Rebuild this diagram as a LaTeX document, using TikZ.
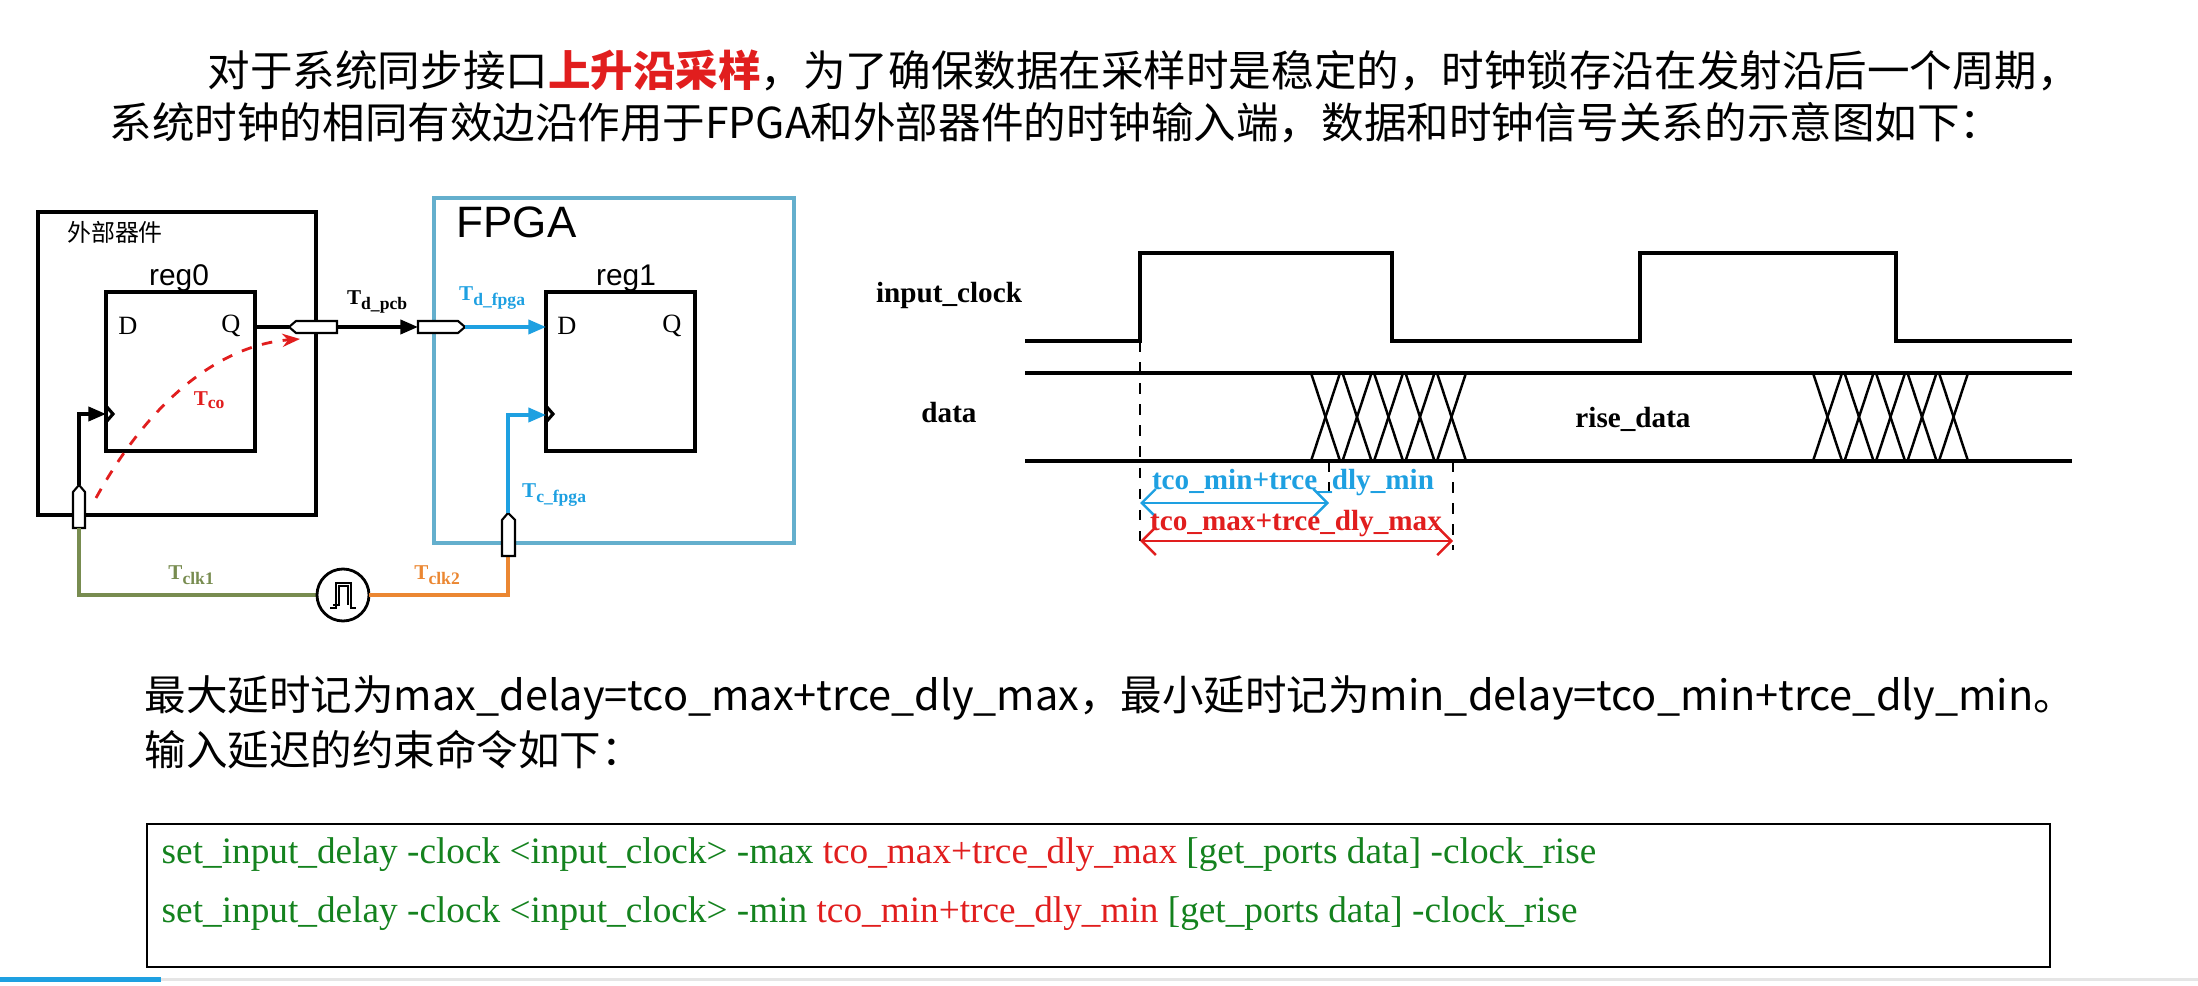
\documentclass[tikz,border=0pt]{standalone}
\usepackage{fontspec}
\setmainfont{Liberation Serif}
\setsansfont{Liberation Sans}
\newfontfamily\cjk{Noto Sans CJK SC}
\usetikzlibrary{arrows.meta}
\definecolor{cred}{RGB}{225,30,30}
\definecolor{cgreen}{RGB}{20,130,30}
\definecolor{cblue}{RGB}{30,160,225}
\definecolor{colive}{RGB}{120,140,80}
\definecolor{corange}{RGB}{235,135,50}
\definecolor{cfpga}{RGB}{100,175,205}
\begin{document}
\begin{tikzpicture}[x=0.01cm,y=-0.01cm,
  lbl/.style={font=\fontsize{6}{7}\selectfont\bfseries, inner sep=0pt},
  tim/.style={font=\fontsize{8.3}{10}\selectfont\bfseries, inner sep=0pt},
  sig/.style={line width=1.3pt},
  hd/.style={anchor=west, inner sep=0pt, font=\cjk\fontsize{12.1}{15}\selectfont},
  hdb/.style={anchor=west, inner sep=0pt, font=\cjk\fontsize{11.8}{15}\selectfont},
  code/.style={anchor=west, inner sep=0pt, font=\fontsize{10.6}{12}\selectfont, text=cgreen},
  arr/.style={-{Triangle[length=5pt,width=4pt]}}]
\useasboundingbox (0,0) rectangle (2198,986);
% heading
\node[hd] (h1) at (207,70) {对于系统同步接口{\color{cred}\bfseries 上升沿采样}，为了确保数据在采样时是稳定的，时钟锁存沿在发射沿后一个周期，};
\node[hd] (h2) at (109,123) {系统时钟的相同有效边沿作用于FPGA和外部器件的时钟输入端，数据和时钟信号关系的示意图如下：};
\node[hdb] (h3) at (144,698) {最大延时记为max\_delay=tco\_max+trce\_dly\_max，最小延时记为min\_delay=tco\_min+trce\_dly\_min。};
\node[hdb] (h4) at (144,750) {输入延迟的约束命令如下：};
% code box
\draw[line width=0.7pt] (147,824) rectangle (2050,967);
\node[code] (c1) at (161,855) {set\_input\_delay -clock <input\_clock> -max {\color{cred}tco\_max+trce\_dly\_max} [get\_ports data] -clock\_rise};
\node[code] (c2) at (161,914) {set\_input\_delay -clock <input\_clock> -min {\color{cred}tco\_min+trce\_dly\_min} [get\_ports data] -clock\_rise};
\fill[cblue] (0,977) rectangle (161,982);
\fill[black!10] (161,978) rectangle (2198,981);
% left schematic
\draw[line width=1.1pt] (38,212) rectangle (316,515);
\node[font=\cjk\fontsize{6.8}{8}\selectfont, inner sep=0pt] (ext) at (115,232) {外部器件};
\draw[cfpga, line width=1.1pt] (434,198) rectangle (794,543);
\node[font=\sffamily\fontsize{12.5}{14}\selectfont, inner sep=0pt, anchor=west] (fpga) at (456,222) {FPGA};
\draw[line width=1.1pt] (106,292) rectangle (255,451);
\draw[line width=1.1pt] (546,292) rectangle (695,451);
\node[font=\sffamily\fontsize{8.5}{10}\selectfont, inner sep=0pt] (r0) at (179,278) {reg0};
\node[font=\sffamily\fontsize{8.5}{10}\selectfont, inner sep=0pt] (r1) at (626,278) {reg1};
\node[font=\fontsize{7.5}{9}\selectfont, inner sep=0pt] (d0) at (128,326) {D};
\node[font=\fontsize{7.5}{9}\selectfont, inner sep=0pt] (q0) at (231,326) {Q};
\node[font=\fontsize{7.5}{9}\selectfont, inner sep=0pt] (d1) at (567,326) {D};
\node[font=\fontsize{7.5}{9}\selectfont, inner sep=0pt] (q1) at (672,326) {Q};
\draw[line width=0.9pt] (106,406)--(113,414)--(106,422);
\draw[line width=0.9pt] (546,406)--(553,414)--(546,422);
% data path
\draw[line width=1pt] (255,327)--(289,327);
\draw[line width=0.6pt, fill=white] (289,327)--(296,321)--(337,321)--(337,333)--(296,333)--cycle;
\draw[line width=1pt, arr] (337,327)--(418,327);
\draw[line width=0.6pt, fill=white] (418,321)--(458,321)--(465,327)--(458,333)--(418,333)--cycle;
\draw[cblue, line width=1pt, arr] (465,327)--(546,327);
\node[lbl] (tpcb) at (378,302) {T\textsubscript{d\_pcb}};
\node[lbl, text=cblue] (tdf) at (493,298) {T\textsubscript{d\_fpga}};
% clocks
\draw[line width=1pt, arr] (79,485)--(79,414)--(106,414);
\draw[line width=0.6pt, fill=white] (73,528)--(73,492)--(79,485)--(85,492)--(85,528)--cycle;
\draw[colive, line width=1pt] (79,528)--(79,595)--(317,595);
\draw[line width=0.8pt] (343,595) circle (26);
\draw[line width=0.8pt] (330,608)--(336,608)--(336,583)--(351,583)--(351,608)--(356,608);
\draw[line width=0.8pt] (333,605)--(339,605)--(339,586)--(348,586)--(348,605);
\draw[corange, line width=1pt] (369,595)--(508,595)--(508,556);
\draw[line width=0.6pt, fill=white] (502,556)--(502,520)--(508,513)--(515,520)--(515,556)--cycle;
\draw[cblue, line width=1pt, arr] (508,513)--(508,415)--(546,415);
\node[lbl, text=cblue] (tcf) at (555,495) {T\textsubscript{c\_fpga}};
\node[lbl, text=colive] (tc1) at (192,575) {T\textsubscript{clk1}};
\node[lbl, text=corange] (tc2) at (438,575) {T\textsubscript{clk2}};
\node[lbl, text=cred] (tco) at (210,400) {T\textsubscript{co}};
\draw[cred, dashed, line width=0.8pt, -{Stealth[length=5pt]}] (96,498) .. controls (150,400) and (220,345) .. (300,339);
% timing
\node[tim] (ic) at (949,295) {input\_clock};
\node[tim] (dt) at (949,413) {data};
\node[tim] (rd) at (1633,419) {rise\_data};
\draw[sig] (1025,341)--(1140,341)--(1140,253)--(1392,253)--(1392,341)--(1640,341)--(1640,253)--(1896,253)--(1896,341)--(2072,341);
\draw[sig] (1025,373)--(2072,373);
\draw[sig] (1025,461)--(2072,461);
\foreach \s in {1311,1813}{
  \foreach \k in {0,...,4}{
    \draw[line width=0.7pt] ({\s+31.5*\k},373)--({\s+31.5*\k+29},461);
    \draw[line width=0.7pt] ({\s+31.5*\k+29},373)--({\s+31.5*\k},461);
  }}
\draw[dashed, line width=0.6pt] (1140,341)--(1140,550);
\draw[dashed, line width=0.6pt] (1329,461)--(1329,503);
\draw[dashed, line width=0.6pt] (1453,461)--(1453,550);
\draw[cblue, line width=0.7pt, {Straight Barb[length=4pt]}-{Straight Barb[length=4pt]}] (1140,503)--(1329,503);
\draw[cred, line width=0.7pt, {Straight Barb[length=4pt]}-{Straight Barb[length=4pt]}] (1140,541)--(1453,541);
\node[tim, text=cblue] (tmin) at (1293,483) {tco\_min+trce\_dly\_min};
\node[tim, text=cred] (tmax) at (1296,524) {tco\_max+trce\_dly\_max};
\end{tikzpicture}
\end{document}
